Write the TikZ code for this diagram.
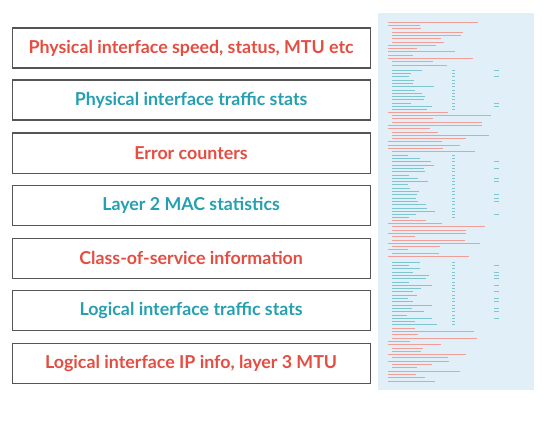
\documentclass[tikz,border=0pt]{standalone}
\usepackage{fontspec}
\setmainfont{Lato}
\definecolor{cred}{RGB}{228,78,66}
\definecolor{cteal}{RGB}{38,160,176}
\definecolor{panelbg}{RGB}{225,240,248}
\definecolor{boxline}{RGB}{85,85,85}
\tikzset{
  infobox/.style={draw=boxline, line width=1.2pt, fill=white, minimum width=358pt, minimum height=40pt,
    font=\bfseries\fontsize{17.8}{20}\selectfont, inner sep=0pt, anchor=north west},
  redtxt/.style={text=cred},
  tealtxt/.style={text=cteal},
  redline/.style={draw=cred!55, line width=0.5pt},
  tealline/.style={draw=cteal!60, line width=0.5pt}
}
\begin{document}
\begin{tikzpicture}[x=1pt,y=-1pt]
\useasboundingbox (0,0) rectangle (553,422);
\node[infobox,redtxt]  (b1) at (11.5,27.5)  {Physical interface speed, status, MTU etc};
\node[infobox,tealtxt] (b2) at (11.5,79.5)  {Physical interface traffic stats};
\node[infobox,redtxt]  (b3) at (11.5,132.5) {Error counters};
\node[infobox,tealtxt] (b4) at (11.5,184.5) {Layer 2 MAC statistics};
\node[infobox,redtxt]  (b5) at (11.5,237.5) {Class-of-service information};
\node[infobox,tealtxt] (b6) at (11.5,289.5) {Logical interface traffic stats};
\node[infobox,redtxt]  (b7) at (11.5,342.5) {Logical interface IP info, layer 3 MTU};
% output panel
\node[fill=panelbg, anchor=north west, minimum width=156pt, minimum height=377pt, inner sep=0pt] (panel) at (378,13) {};
\pgfmathsetseed{7}
% red text blocks
\foreach \ya/\yb in {22/68, 112/152, 220/258, 328/384} {
  \pgfmathtruncatemacro\n{(\yb-\ya)/3.3}
  \foreach \i in {0,...,\n} {
    \pgfmathsetmacro\yy{\ya+\i*3.3}
    \pgfmathsetmacro\ll{20+rnd*80}
    \pgfmathsetmacro\xx{388+4*round(rnd)}
    \draw[redline] (\xx,\yy) -- ++(\ll,0);
  }
}
% teal counter blocks
\foreach \ya/\yb in {70/110, 155/218, 262/326} {
  \pgfmathtruncatemacro\n{(\yb-\ya)/3.3}
  \foreach \i in {0,...,\n} {
    \pgfmathsetmacro\yy{\ya+\i*3.3}
    \pgfmathsetmacro\ll{15+rnd*30}
    \draw[tealline] (392,\yy) -- ++(\ll,0);
    \draw[tealline] (452,\yy) -- ++(3,0);
    \pgfmathsetmacro\q{rnd}
    \ifdim\q pt>0.55pt \draw[tealline] (494,\yy) -- ++(5,0); \fi
  }
}
\end{tikzpicture}
\end{document}
